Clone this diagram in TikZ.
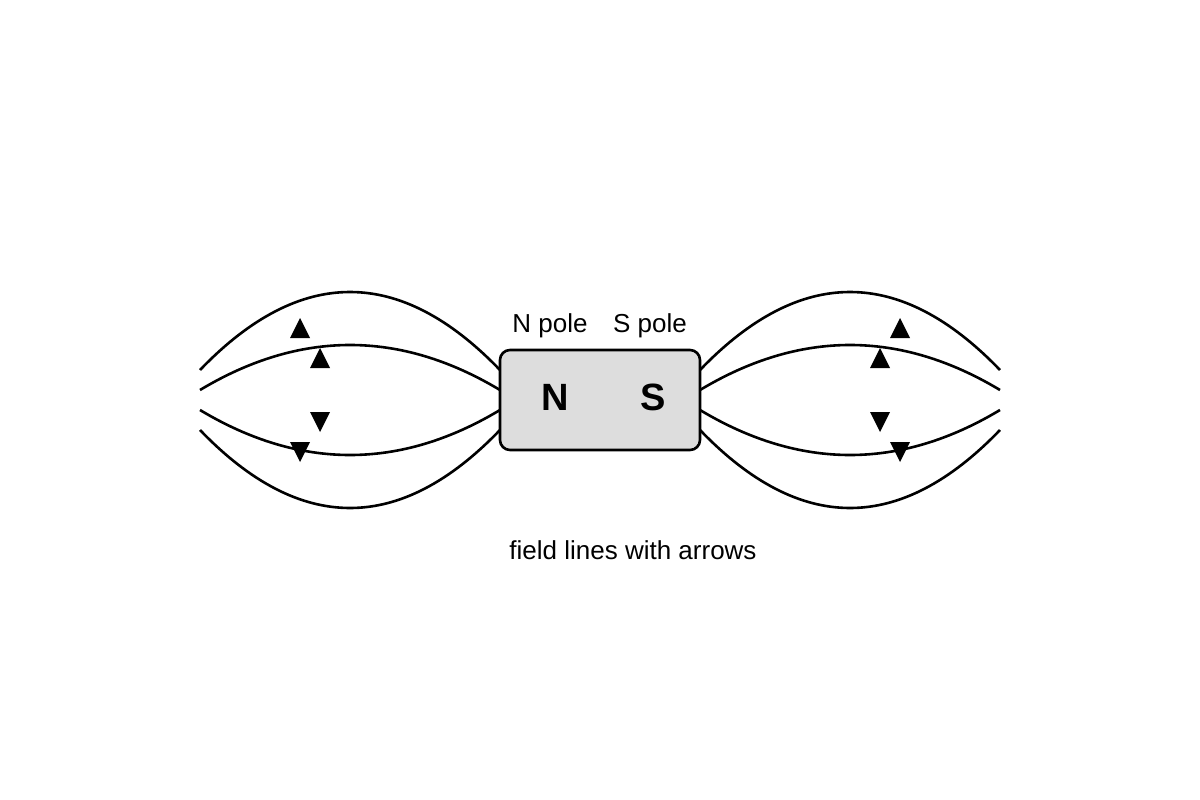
\documentclass[tikz,border=0pt]{standalone}
\usepackage{fontspec}
\setmainfont{Liberation Sans}
\begin{document}
\begin{tikzpicture}[x=1pt,y=-1pt,
  fl/.style={line width=2.6pt},
  lbl/.style={font=\fontsize{26}{30}\selectfont},
  pole/.style={font=\fontsize{38}{44}\selectfont\bfseries}]
\useasboundingbox (0,0) rectangle (1200,800);
\node[draw,line width=2.6pt,fill={rgb,255:red,221;green,221;blue,221},rounded corners=10pt,minimum width=200pt,minimum height=100pt,inner sep=0pt] (mag) at (600,400) {};
\node[pole] (n) at (555,397) {N};
\node[pole] (s) at (653,397) {S};
\node[lbl] (np) at (550,326) {N pole};
\node[lbl] (sp) at (650,326) {S pole};
\node[lbl] (cap) at (633,550) {field lines with arrows};
\foreach \a/\b/\c in {370/266/370, 390/330/390, 410/470/410, 430/534/430}{
  \draw[fl] (200,\a) .. controls (300,\b) and (400,\b) .. (500,\c);
  \draw[fl] (700,\c) .. controls (800,\b) and (900,\b) .. (1000,\a);
}
\foreach \x/\y in {300/328, 320/358, 900/328, 880/358}{
  \fill (\x-10,\y+10) -- (\x+10,\y+10) -- (\x,\y-10) -- cycle;}
\foreach \x/\y in {320/422, 300/452, 880/422, 900/452}{
  \fill (\x-10,\y-10) -- (\x+10,\y-10) -- (\x,\y+10) -- cycle;}
\end{tikzpicture}
\end{document}
